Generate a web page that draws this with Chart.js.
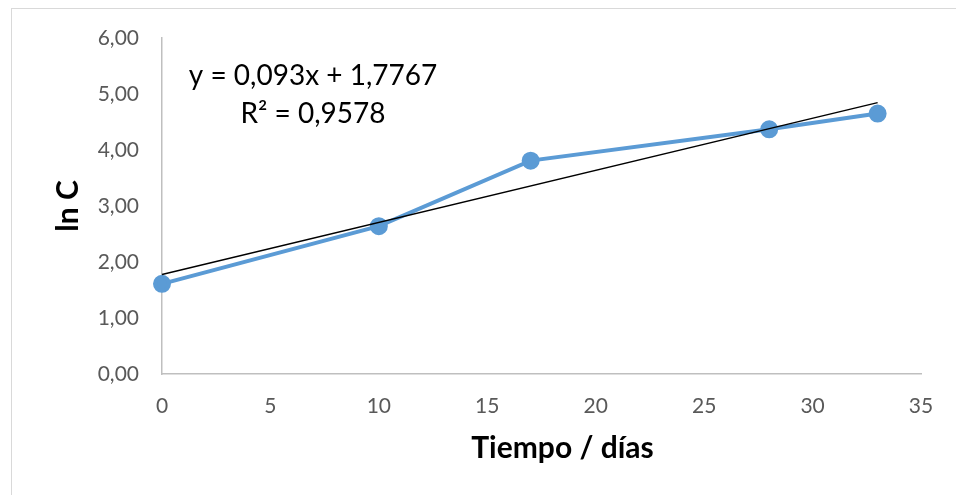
<!DOCTYPE html>
<html>
<head>
<meta charset="utf-8">
<script src="https://cdn.jsdelivr.net/npm/chart.js@4.4.1/dist/chart.umd.min.js"></script>
<style>
    html, body { margin: 0; padding: 0; background: #fff; overflow: hidden; }
    .wrap { position: relative; width: 956px; height: 495px; }
    .frame {
        position: absolute; left: 11px; top: 8px;
        width: 1100px; height: 700px;
        border: 1px solid #d9d9d9;
    }
    canvas { position: absolute; left: 0; top: 0; }
</style>
</head>
<body>
<div class="wrap">
    <div class="frame"></div>
    <canvas id="chart" width="956" height="495"></canvas>
</div>
<script>
const days = [0, 10, 17, 28, 33];
const lnC = [1.61, 2.64, 3.81, 4.37, 4.65];

const slope = 0.093;
const intercept = 1.7767;
const equationText = "y = 0,093x + 1,7767";
const r2Text = "R² = 0,9578";
const xTitle = "Tiempo / días";
const yTitle = "ln C";

const FONT = "Lato, 'Open Sans', sans-serif";

const points = days.map((d, i) => ({ x: d, y: lnC[i] }));
const trendX = [days[0], days[days.length - 1]];
const trend = trendX.map(x => ({ x, y: slope * x + intercept }));

const formatComma = (v, digits) => v.toFixed(digits).replace(".", ",");

// equation box and axis titles, placed like the Excel original
const chartTexts = {
    id: "chartTexts",
    afterDatasetsDraw(chart) {
        const { ctx, chartArea } = chart;
        ctx.save();
        ctx.fillStyle = "#000";
        ctx.textAlign = "center";
        ctx.textBaseline = "middle";

        ctx.font = "28px " + FONT;
        const cx = chartArea.left + 151;
        ctx.fillText(equationText, cx, chartArea.top + 38);
        ctx.fillText(r2Text, cx, chartArea.top + 76);

        ctx.font = "bold 30px " + FONT;
        ctx.fillText(xTitle, (chartArea.left + chartArea.right) / 2 + 21, 448);

        ctx.translate(68, (chartArea.top + chartArea.bottom) / 2);
        ctx.rotate(-Math.PI / 2);
        ctx.fillText(yTitle, 0, 0);
        ctx.restore();
    }
};

new Chart(document.getElementById("chart"), {
    type: "scatter",
    data: {
        datasets: [
            {
                label: "ln C",
                data: points,
                showLine: true,
                borderColor: "#5b9bd5",
                backgroundColor: "#5b9bd5",
                borderWidth: 4,
                pointRadius: 7,
                pointHoverRadius: 7,
                clip: false,
                order: 2
            },
            {
                label: "Lineal",
                data: trend,
                showLine: true,
                borderColor: "#000",
                borderWidth: 1.5,
                pointRadius: 0,
                clip: false,
                order: 1
            }
        ]
    },
    options: {
        responsive: false,
        animation: false,
        layout: { padding: { left: 0, top: 38, right: 35, bottom: 0 } },
        plugins: {
            legend: { display: false },
            tooltip: { enabled: false }
        },
        scales: {
            x: {
                type: "linear",
                min: 0,
                max: 35,
                afterFit(scale) { scale.height = 121; },
                ticks: {
                    stepSize: 5,
                    color: "#595959",
                    font: { family: FONT, size: 21 },
                    padding: 20
                },
                grid: { display: false, drawTicks: false },
                border: { color: "#bfbfbf", width: 1.5 }
            },
            y: {
                min: 0,
                max: 6,
                afterFit(scale) { scale.width = 162; },
                ticks: {
                    stepSize: 1,
                    color: "#595959",
                    font: { family: FONT, size: 21 },
                    padding: 23,
                    callback: v => formatComma(v, 2)
                },
                grid: { display: false, drawTicks: false },
                border: { color: "#bfbfbf", width: 1.5 }
            }
        }
    },
    plugins: [chartTexts]
});
</script>
</body>
</html>
